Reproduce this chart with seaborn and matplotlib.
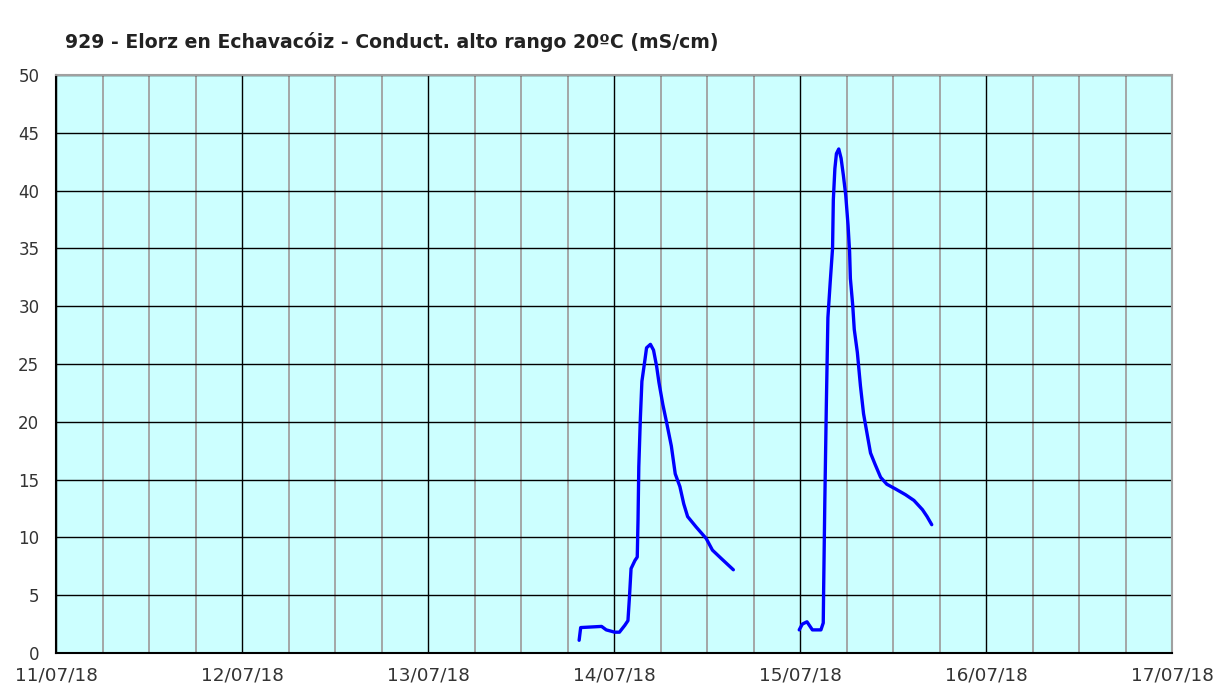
"""
Conductividad alto rango 20ºC - Elorz en Echavacóiz (estación 929).
"""

import matplotlib

matplotlib.use("Agg")
import matplotlib.pyplot as plt
import matplotlib.dates as mdates
import seaborn as sns
import numpy as np
import pandas as pd

# Datos (horas desde 11/07/18 00:00, mS/cm)
horas_evento_1 = [67.5, 67.7, 70.4, 71.0, 72.1, 72.7, 73.4, 73.8, 74.0, 74.2,
                  74.7, 75.0, 75.1, 75.2, 75.4, 75.6, 76.0, 76.2, 76.7, 77.1,
                  77.5, 77.8, 78.3, 78.8, 79.4, 79.9, 80.5, 81.0, 81.5, 82.6,
                  83.9, 84.7, 85.8, 87.4]
cond_evento_1 = [1.1, 2.2, 2.3, 2.0, 1.8, 1.8, 2.4, 2.8, 4.9, 7.3,
                 8.0, 8.3, 11.5, 16.1, 20.3, 23.5, 25.4, 26.4, 26.7, 26.2,
                 24.8, 23.4, 21.5, 19.9, 17.9, 15.5, 14.4, 12.9, 11.8, 10.9,
                 9.9, 8.9, 8.2, 7.2]

horas_evento_2 = [95.9, 96.3, 96.9, 97.6, 98.7, 99.0, 99.05, 99.2, 99.4, 99.6,
                  99.9, 100.2, 100.3, 100.5, 100.7, 101.0, 101.3, 101.6, 101.9, 102.2,
                  102.4, 102.5, 102.8, 103.0, 103.4, 103.8, 104.2, 104.7, 105.1, 105.7,
                  106.4, 107.2, 108.3, 109.6, 110.7, 111.8, 112.4, 113.0]
cond_evento_2 = [2.0, 2.5, 2.7, 2.0, 2.0, 2.6, 5.5, 13.0, 21.5, 29.0,
                 32.1, 35.0, 39.2, 41.9, 43.2, 43.6, 42.8, 41.3, 39.6, 37.0,
                 34.7, 32.4, 30.1, 28.0, 26.0, 23.1, 20.7, 18.8, 17.3, 16.3,
                 15.2, 14.6, 14.2, 13.7, 13.2, 12.4, 11.8, 11.1]

inicio = pd.Timestamp("2018-07-11")
fin = pd.Timestamp("2018-07-17")
titulo = "929 - Elorz en Echavacóiz - Conduct. alto rango 20ºC (mS/cm)"

df = pd.concat(
    [
        pd.DataFrame({"horas": horas_evento_1, "cond": cond_evento_1, "evento": 1}),
        pd.DataFrame({"horas": horas_evento_2, "cond": cond_evento_2, "evento": 2}),
    ]
)
df["fecha"] = inicio + pd.to_timedelta(df["horas"], unit="h")

sns.set_style("white")
plt.rcParams["font.family"] = ["DejaVu Sans"]

fig = plt.figure(figsize=(12.17, 6.88), dpi=100)
ax = fig.add_axes([56 / 1217, 1 - 653 / 688, (1172 - 56) / 1217, (653 - 75) / 688])
ax.set_facecolor("#CCFFFF")

# Rejilla: cada 6 horas gris, cada día negro
ax.xaxis.set_major_locator(mdates.DayLocator())
ax.xaxis.set_minor_locator(mdates.HourLocator(byhour=[6, 12, 18]))
ax.xaxis.set_major_formatter(mdates.DateFormatter("%d/%m/%y"))
ax.grid(True, which="minor", axis="x", color="#A0A0A0", linewidth=1.3)
ax.grid(True, which="major", axis="x", color="black", linewidth=1.0)
ax.grid(True, which="major", axis="y", color="black", linewidth=1.0)
ax.set_axisbelow(True)

sns.lineplot(
    data=df,
    x="fecha",
    y="cond",
    units="evento",
    estimator=None,
    color="#0000FF",
    linewidth=2.4,
    ax=ax,
    legend=False,
)

ax.set_xlim(inicio, fin)
ax.set_ylim(0, 50)
ax.set_yticks(np.arange(0, 51, 5))
ax.set_xlabel("")
ax.set_ylabel("")

for lado in ["top", "right"]:
    ax.spines[lado].set_color("#A0A0A0")
    ax.spines[lado].set_linewidth(1.5)
for lado in ["left", "bottom"]:
    ax.spines[lado].set_color("black")
    ax.spines[lado].set_linewidth(1.5)

ax.tick_params(axis="both", which="major", direction="out", length=4, width=1,
               color="black", labelcolor="#333333")
ax.tick_params(axis="x", which="major", pad=6, labelsize=13.2)
ax.tick_params(axis="y", which="major", pad=8, labelsize=12)
ax.tick_params(axis="x", which="minor", length=0)

fig.text(65 / 1217, 1 - 42 / 688, titulo, fontsize=13.6, fontweight="bold",
         color="#222222", va="center", ha="left")

fig.savefig("out.png", dpi=100, facecolor="white")
